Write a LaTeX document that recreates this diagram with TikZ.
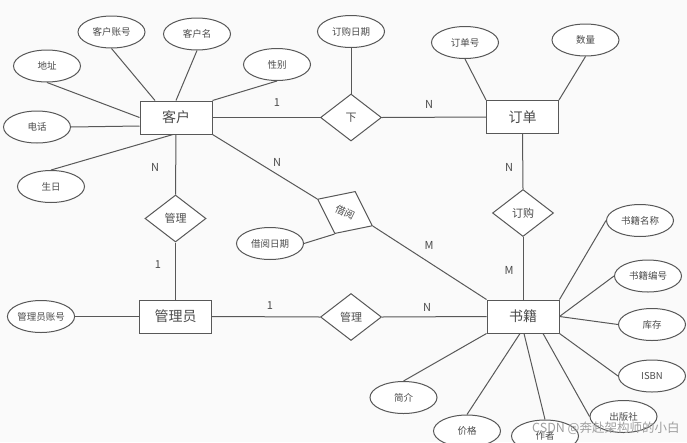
\documentclass[tikz,border=0pt]{standalone}
\usepackage{fontspec}
\setmainfont{Noto Sans CJK SC}
\usetikzlibrary{shapes.geometric}
\definecolor{bg}{RGB}{250,250,250}
\definecolor{ln}{RGB}{88,88,88}
\definecolor{tx}{RGB}{75,75,75}
\begin{document}
\begin{tikzpicture}[x=1pt,y=-1pt,
  every node/.style={text=tx},
  entity/.style={draw=ln,line width=1pt,fill=white,minimum width=72pt,minimum height=33pt,inner sep=0pt,font=\fontsize{14}{14}\selectfont},
  attr/.style={draw=ln,ellipse,line width=1pt,fill=white,minimum width=67pt,minimum height=32pt,inner sep=0pt,font=\fontsize{9.5}{10}\selectfont},
  rel/.style={draw=ln,diamond,line width=1pt,fill=white,minimum width=61pt,minimum height=47pt,inner sep=0pt,font=\fontsize{11}{11}\selectfont},
  card/.style={font=\fontsize{11}{11}\selectfont,inner sep=0pt},
  conn/.style={draw=ln,line width=1pt}]
\fill[bg] (0,0) rectangle (687,442);
\useasboundingbox (0,0) rectangle (687,442);

% entities
\node[entity] (kh) at (176,117.5) {客户};
\node[entity] (dd) at (522.5,117) {订单};
\node[entity] (gly) at (175.5,316.5) {管理员};
\node[entity] (sj) at (523,316.5) {书籍};

% relationships
\node[rel] (xia) at (351,117.5) {下};
\node[rel] (dg) at (523,213) {订购};
\node[rel] (gl1) at (175.5,218.5) {管理};
\node[rel] (gl2) at (351,317) {管理};
\node[rel,rotate=-26,font=\fontsize{10}{10}\selectfont] (jy) at (345,212.5) {借阅};

% attributes
\node[attr] (khzh) at (111.5,32) {客户账号};
\node[attr] (khm) at (197,34) {客户名};
\node[attr] (dz) at (47,66) {地址};
\node[attr] (xb) at (277,64.5) {性别};
\node[attr] (dh) at (37,127) {电话};
\node[attr] (sr) at (51,186.5) {生日};
\node[attr] (dgrq) at (351,31.5) {订购日期};
\node[attr] (ddh) at (465,42.5) {订单号};
\node[attr] (sl) at (585.5,40) {数量};
\node[attr] (glyzh) at (41,316.5) {管理员账号};
\node[attr] (jyrq) at (270,243.5) {借阅日期};
\node[attr] (smc) at (640,220.5) {书籍名称};
\node[attr] (sbh) at (648,276) {书籍编号};
\node[attr] (kc) at (652,324.5) {库存};
\node[attr] (isbn) at (652,376) {ISBN};
\node[attr] (cbs) at (623.5,416.5) {出版社};
\node[attr] (zz) at (545,436) {作者};
\node[attr] (jg) at (467,431) {价格};
\node[attr] (jj) at (403.5,397.5) {简介};

% connectors
\draw[conn] ([xshift=-21pt]kh.north) -- (khzh.south);
\draw[conn] (kh.north) -- (khm.south);
\draw[conn] (kh.north east) -- (xb.south);
\draw[conn] (kh.west) -- (dz.south);
\draw[conn] ([yshift=-8.5pt]kh.west) -- (dh.east);
\draw[conn] ([xshift=-3pt]kh.south) -- (sr.north);

\draw[conn] (dd.north west) -- (ddh.south);
\draw[conn] (dd.north east) -- (sl.south);

\draw[conn] (kh.east) -- (xia.west);
\draw[conn] (xia.east) -- (dd.west);
\draw[conn] (dgrq.south) -- (xia.north);

\draw[conn] (dd.south) -- (dg.north);
\draw[conn] (dg.south) -- (sj.north);

\draw[conn] (kh.south) -- (gl1.north);
\draw[conn] (gl1.south) -- (gly.north);

\draw[conn] (glyzh.east) -- (gly.west);
\draw[conn] (gly.east) -- (gl2.west);
\draw[conn] (gl2.east) -- (sj.west);

\draw[conn] (kh.south east) -- (jy.west);
\draw[conn] (jy.east) -- (sj.north west);
\draw[conn] (jyrq.east) -- (jy.south);

\draw[conn] (sj.north east) -- (smc.west);
\draw[conn] (sj.east) -- (sbh.west);
\draw[conn] (sj.east) -- (kc.west);
\draw[conn] (sj.south east) -- (isbn.west);
\draw[conn] ([xshift=20pt]sj.south) -- (cbs.west);
\draw[conn] ([xshift=1pt]sj.south) -- (zz.north);
\draw[conn] ([xshift=-3pt]sj.south) -- (jg.north);
\draw[conn] (sj.south west) -- (jj.north);

% cardinalities
\node[card] (c1) at (277,103) {1};
\node[card] (c2) at (429,104) {N};
\node[card] (c3) at (155,167) {N};
\node[card] (c4) at (277,162) {N};
\node[card] (c5) at (509,167) {N};
\node[card] (c6) at (158,265) {1};
\node[card] (c7) at (270,306) {1};
\node[card] (c8) at (427,307) {N};
\node[card] (c9) at (429,245) {M};
\node[card] (c10) at (509,270) {M};

% watermark
\node[font=\fontsize{12.5}{13}\selectfont,text=gray!75,inner sep=0pt,anchor=west] (wm) at (532,428) {CSDN @奔赴架构师的小白};
\end{tikzpicture}
\end{document}
